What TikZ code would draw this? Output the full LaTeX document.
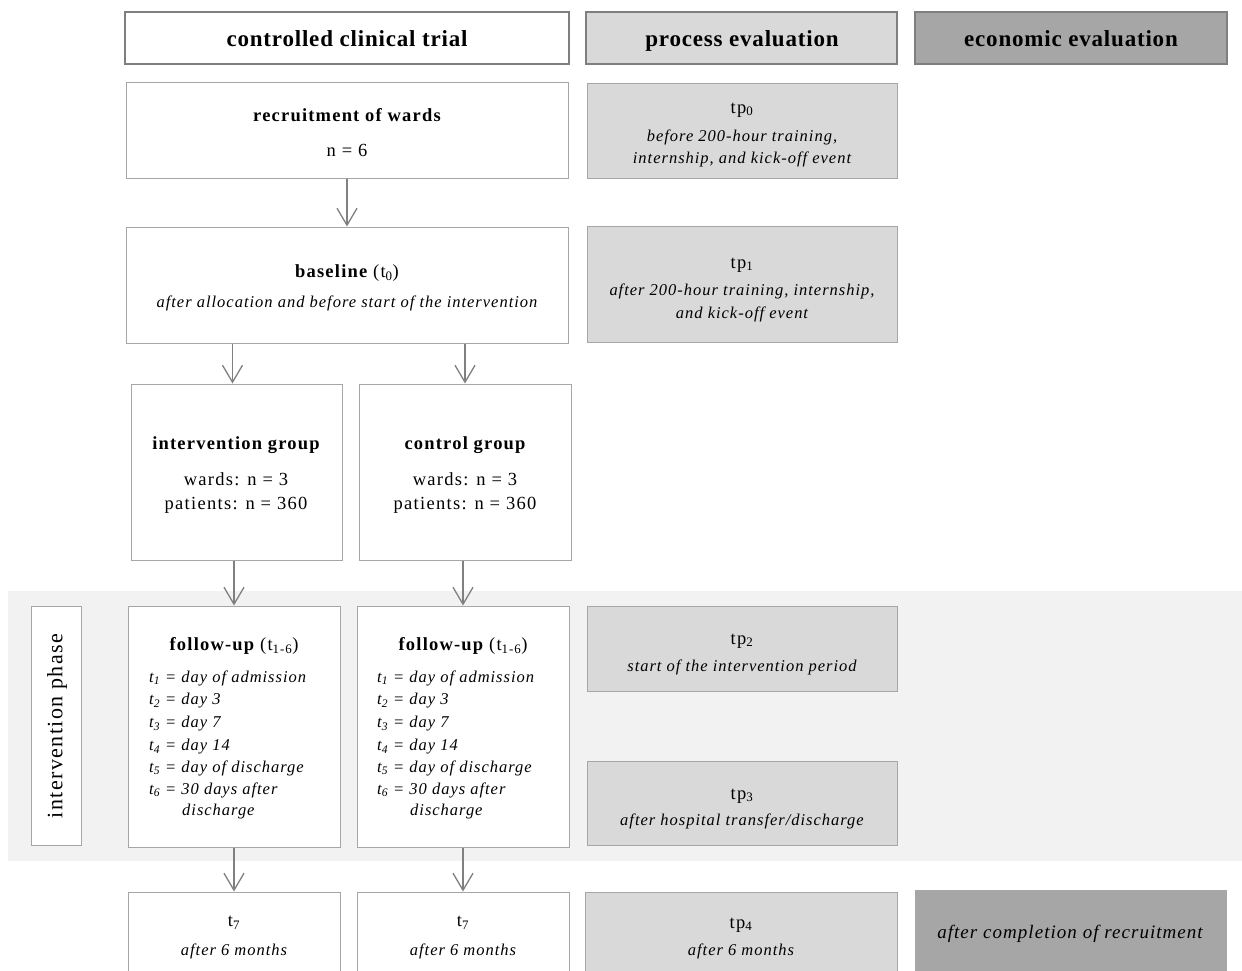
\documentclass[tikz,border=0pt]{standalone}
\usepackage{fontspec}
\setmainfont{Liberation Serif}
\usetikzlibrary{arrows.meta,fit}
\definecolor{hdrborder}{HTML}{7F7F7F}
\definecolor{boxborder}{HTML}{A6A6A6}
\definecolor{lightfill}{HTML}{D9D9D9}
\definecolor{darkfill}{HTML}{A6A6A6}
\definecolor{bandfill}{HTML}{F2F2F2}
\definecolor{arrowgray}{HTML}{808080}
\newcommand\hdrfont{\fontsize{23}{27}\selectfont\bfseries\addfontfeatures{LetterSpace=3.5}}
\newcommand\bodyfont{\fontsize{18.5}{22}\selectfont\addfontfeatures{LetterSpace=7}}
\newcommand\boldfont{\fontsize{18.5}{22}\selectfont\bfseries\addfontfeatures{LetterSpace=6.5}}
\newcommand\itfont{\fontsize{16.5}{22}\selectfont\itshape\addfontfeatures{LetterSpace=6}}
\newcommand\plainpart[1]{{\mdseries\upshape\bodyfont #1}}
\begin{document}
\begin{tikzpicture}[x=1pt,y=-1pt,
  hdr/.style={draw=hdrborder,line width=2.6pt,inner sep=0pt},
  box/.style={draw=boxborder,line width=1pt,fill=white,inner sep=0pt},
  tpbox/.style={draw=boxborder,line width=1pt,fill=lightfill,inner sep=0pt},
  txt/.style={inner sep=0pt,font=\bodyfont},
  ittxt/.style={inner sep=0pt,font=\itfont},
  bold/.style={inner sep=0pt,font=\boldfont},
  arr/.style={draw=arrowgray,line width=1.8pt,-{Straight Barb[length=17pt,width=20pt,line width=1.3pt]}}]
\clip (0,0) rectangle (1242,970);
\fill[white] (0,0) rectangle (1242,970);
% band
\fill[bandfill] (8,591) rectangle (1242,861);
% headers
\node[hdr,fill=white,fit={(125,12)(569,64)}] (h1) {};
\node[hdr,fill=lightfill,fit={(586,12)(897,64)}] (h2) {};
\node[hdr,fill=darkfill,fit={(915,12)(1227,64)}] (h3) {};
\node[inner sep=0pt,font=\hdrfont] (h1t) at (347,39) {controlled clinical trial};
\node[inner sep=0pt,font=\hdrfont] (h2t) at (742,41) {process evaluation};
\node[inner sep=0pt,font=\hdrfont] (h3t) at (1071,39) {economic evaluation};
% recruitment
\node[box,fit={(126,82)(568,178)}] (rec) {};
\node[bold] (rect1) at (347,115) {recruitment of wards};
\node[txt] (rect2) at (347,150) {n = 6};
\node[tpbox,fit={(587,83)(897,178)}] (tp0) {};
\node[txt] (tp0t1) at (742,110) {tp\textsubscript{0}};
\node[ittxt] (tp0t2) at (742,137) {before 200-hour training,};
\node[ittxt] (tp0t3) at (742,159) {internship, and kick-off event};
% baseline
\node[box,fit={(126,227)(568,343)}] (base) {};
\node[bold] (baset1) at (347,273) {baseline \plainpart{(t\textsubscript{0})}};
\node[ittxt] (baset2) at (347,303) {after allocation and before start of the intervention};
\node[tpbox,fit={(587,226)(897,342)}] (tp1) {};
\node[txt] (tp1t1) at (742,265) {tp\textsubscript{1}};
\node[ittxt] (tp1t2) at (742,291) {after 200-hour training, internship,};
\node[ittxt] (tp1t3) at (742,314) {and kick-off event};
% groups
\node[box,fit={(131,384)(342,560)}] (ig) {};
\node[bold] (igt1) at (236,445) {intervention group};
\node[txt] (igt2) at (236,479) {wards: n = 3};
\node[txt] (igt3) at (236,505) {patients: n = 360};
\node[box,fit={(359,384)(571,560)}] (cg) {};
\node[bold] (cgt1) at (465,445) {control group};
\node[txt] (cgt2) at (465,479) {wards: n = 3};
\node[txt] (cgt3) at (465,505) {patients: n = 360};
% intervention phase label
\node[box,fit={(31,606)(81,845)}] (ip) {};
\node[inner sep=0pt,font=\fontsize{22}{26}\selectfont\addfontfeatures{LetterSpace=6.5},rotate=90] (ipt) at (57,726) {intervention phase};
% follow-up boxes
\node[box,fit={(128,606)(340,847)}] (fu1) {};
\node[box,fit={(357,606)(569,847)}] (fu2) {};
\foreach \c/\x/\lx in {a/234/149,b/463/377}{
  \node[bold] (fu\c t) at (\x,646) {follow-up \plainpart{(t\textsubscript{1-6})}};
  \node[ittxt,anchor=west] (fu\c1) at (\lx,678) {t\textsubscript{1} = day of admission};
  \node[ittxt,anchor=west] (fu\c2) at (\lx,701) {t\textsubscript{2} = day 3};
  \node[ittxt,anchor=west] (fu\c3) at (\lx,724) {t\textsubscript{3} = day 7};
  \node[ittxt,anchor=west] (fu\c4) at (\lx,747) {t\textsubscript{4} = day 14};
  \node[ittxt,anchor=west] (fu\c5) at (\lx,768) {t\textsubscript{5} = day of discharge};
  \node[ittxt,anchor=west] (fu\c6) at (\lx,790) {t\textsubscript{6} = 30 days after};
  \node[ittxt,anchor=west] (fu\c7) at (\lx+33,812) {discharge};
}
\node[tpbox,fit={(587,606)(897,691)}] (tp2) {};
\node[txt] (tp2t1) at (742,641) {tp\textsubscript{2}};
\node[ittxt] (tp2t2) at (742,667) {start of the intervention period};
\node[tpbox,fit={(587,761)(897,845)}] (tp3) {};
\node[txt] (tp3t1) at (742,796) {tp\textsubscript{3}};
\node[ittxt] (tp3t2) at (742,821) {after hospital transfer/discharge};
% bottom row
\node[box,fit={(128,892)(340,990)}] (t7a) {};
\node[box,fit={(357,892)(569,990)}] (t7b) {};
\node[txt] (t7at1) at (234,923) {t\textsubscript{7}};
\node[ittxt] (t7at2) at (234,951) {after 6 months};
\node[txt] (t7bt1) at (463,923) {t\textsubscript{7}};
\node[ittxt] (t7bt2) at (463,951) {after 6 months};
\node[tpbox,fit={(585,892)(897,990)}] (tp4) {};
\node[txt] (tp4t1) at (741,925) {tp\textsubscript{4}};
\node[ittxt] (tp4t2) at (741,951) {after 6 months};
\node[draw=darkfill,line width=1pt,fill=darkfill,inner sep=0pt,fit={(915,890)(1226,990)}] (econ) {};
\node[inner sep=0pt,font=\fontsize{19}{23}\selectfont\itshape\addfontfeatures{LetterSpace=5.5}] (econt) at (1070,934) {after completion of recruitment};
% arrows
\draw[arr] (rec) -- (base);
\draw[arr] ([xshift=-4pt]base.south -| ig.north) -- ([xshift=-4pt]ig.north);
\draw[arr] (base.south -| cg.north) -- (cg.north);
\draw[arr] (ig.south -| fu1.north) -- (fu1.north);
\draw[arr] (cg.south -| fu2.north) -- (fu2.north);
\draw[arr] (fu1) -- (t7a);
\draw[arr] (fu2) -- (t7b);
\end{tikzpicture}
\end{document}
